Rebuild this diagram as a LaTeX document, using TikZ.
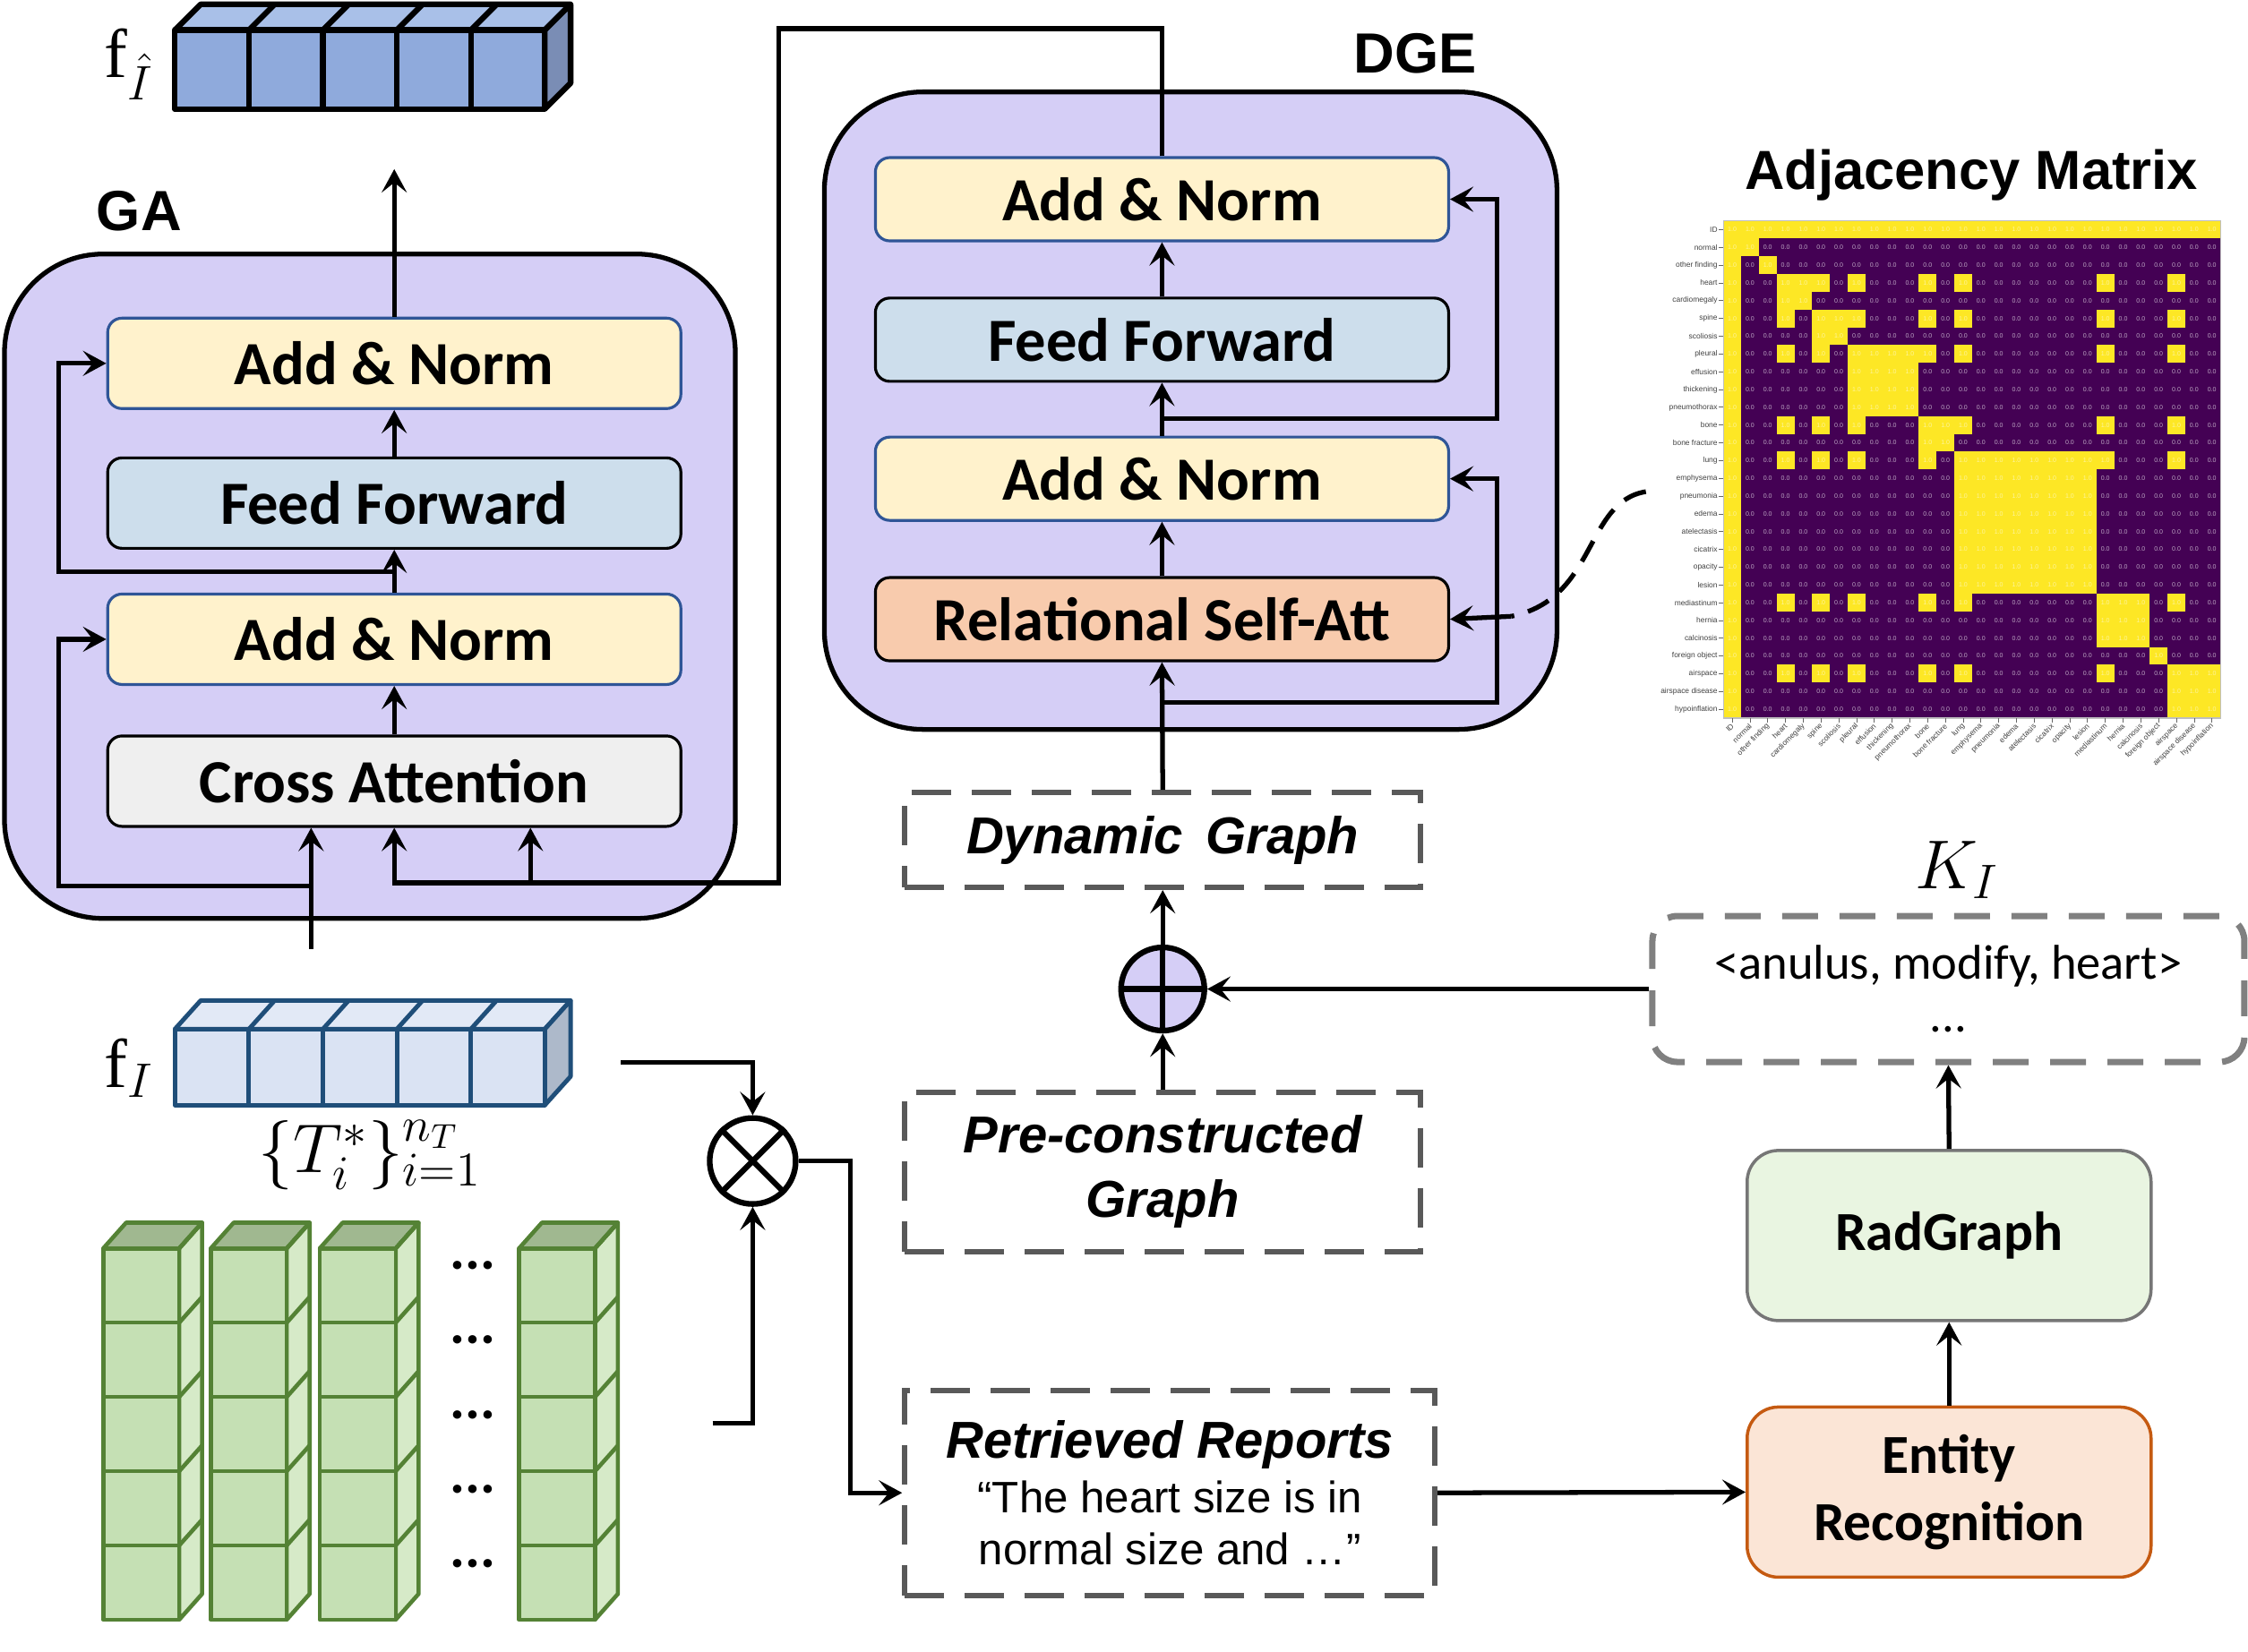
\RequirePackage{fix-cm}
\documentclass[tikz,border=0pt]{standalone}
\usepackage[no-math]{fontspec}
\setmainfont{Liberation Sans}
\newfontfamily\calibrifont{Carlito}
\newfontfamily\seriffont{Liberation Serif}
\usetikzlibrary{arrows.meta,positioning,calc}
\definecolor{blockfill}{RGB}{213,206,246}
\definecolor{normfill}{RGB}{255,242,204}
\definecolor{normborder}{RGB}{47,85,151}
\definecolor{ffwdfill}{RGB}{205,222,236}
\definecolor{crossfill}{RGB}{239,239,239}
\definecolor{relfill}{RGB}{248,203,173}
\definecolor{entityfill}{RGB}{251,229,214}
\definecolor{entityborder}{RGB}{197,90,17}
\definecolor{radfill}{RGB}{233,245,225}
\definecolor{radborder}{RGB}{118,118,118}
\definecolor{dashgray}{RGB}{89,89,89}
\definecolor{kgray}{RGB}{128,128,128}
\definecolor{featfront}{RGB}{143,170,220}
\definecolor{feattop}{RGB}{169,192,232}
\definecolor{featside}{RGB}{122,141,181}
\definecolor{imgfront}{RGB}{218,227,243}
\definecolor{imgtop}{RGB}{226,233,246}
\definecolor{imgside}{RGB}{173,185,202}
\definecolor{imgborder}{RGB}{31,78,121}
\definecolor{txtfront}{RGB}{197,224,180}
\definecolor{txttop}{RGB}{160,184,144}
\definecolor{txtside}{RGB}{214,234,200}
\definecolor{txtborder}{RGB}{84,130,53}
\definecolor{adjyellow}{RGB}{253,231,37}
\definecolor{adjpurple}{RGB}{68,1,84}
\def\adjgrp{{0,1,2,3,3,4,4,5,5,5,5,6,6,7,7,7,7,7,7,7,7,8,8,8,9,10,10,10}}
\def\adjhub{{0,0,0,1,0,1,0,1,0,0,0,1,0,1,0,0,0,0,0,0,0,1,0,0,0,1,0,0}}
\tikzset{
boxtext/.style={
  font=\calibrifont\bfseries\fontsize{19.5}{23}\selectfont,
  align=center
},
layerbox/.style={
  draw,
  rounded corners=1.6mm,
  line width=0.9pt,
  minimum width=64mm,
  minimum height=10.1mm,
  boxtext
},
normbox/.style={layerbox, draw=normborder, fill=normfill},
ffwdbox/.style={layerbox, fill=ffwdfill},
crossbox/.style={layerbox, fill=crossfill},
relbox/.style={layerbox, fill=relfill},
outerblock/.style={
  draw,
  line width=1.5pt,
  fill=blockfill,
  rounded corners=11mm
},
titletext/.style={
  font=\bfseries\fontsize{18}{21}\selectfont
},
graphbox/.style={
  draw=dashgray,
  line width=1.7pt,
  dash pattern=on 4.4mm off 2.3mm,
  align=center,
  font=\bfseries\itshape\fontsize{16.5}{20.4}\selectfont
},
tripletbox/.style={
  draw=kgray,
  line width=2pt,
  dash pattern=on 4mm off 2.4mm,
  rounded corners=2.8mm,
  align=center,
  font=\calibrifont\fontsize{15.5}{18.7}\selectfont
},
procbox/.style={
  draw,
  line width=1pt,
  rounded corners=3.5mm,
  minimum width=45.1mm,
  minimum height=19mm,
  align=center,
  font=\calibrifont\bfseries\fontsize{17.5}{21.3}\selectfont
},
opnode/.style={
  draw,
  circle,
  line width=1.8pt,
  minimum size=9.3mm,
  inner sep=0pt
},
wire/.style={line width=1.5pt},
flow/.style={
  -{Stealth[length=2.6mm,width=2.8mm,inset=1.1mm]},
  wire
},
mathlabel/.style={font=\fontsize{22}{26}\selectfont},
cubeedge/.style={line width=1.8pt, line join=round},
imgedge/.style={draw=imgborder, line width=1.4pt, line join=round},
txtedge/.style={draw=txtborder, line width=1.3pt, line join=round},
cellval/.style={font=\fontsize{2}{2.4}\selectfont, inner sep=0pt},
ticklabel/.style={font=\fontsize{2.4}{2.8}\selectfont, inner sep=0.3pt, text=black!75}
}
\begin{document}
\begin{tikzpicture}[x=0.16008mm, y=-0.16008mm]
\useasboundingbox (0,0) rectangle (1568,1152);

% outer blocks
\node[outerblock, minimum width=81.6mm, minimum height=74.2mm] (ga) at (258,409) {};
\node[outerblock, minimum width=81.8mm, minimum height=71.2mm] (dge) at (830.5,286.5) {};
\node[titletext] (ga-title) at (97,147) {GA};
\node[titletext] (dge-title) at (987,37) {DGE};

% GA layers
\node[normbox] (ga-an2) at (275,253.5) {Add \& Norm};
\node[ffwdbox] (ga-ff) at (275,351) {Feed Forward};
\node[normbox] (ga-an1) at (275,446) {Add \& Norm};
\node[crossbox] (ga-ca) at (275,545) {Cross Attention};

% DGE layers
\node[normbox, minimum height=9.3mm] (dge-an2) at (810.5,139) {Add \& Norm};
\node[ffwdbox, minimum height=9.3mm] (dge-ff) at (810.5,237) {Feed Forward};
\node[normbox, minimum height=9.3mm] (dge-an1) at (810.5,334) {Add \& Norm};
\node[relbox, minimum height=9.3mm] (dge-rsa) at (810.5,432) {Relational Self-Att};

% graphs and reports
\node[graphbox, minimum width=57.6mm, minimum height=10.6mm] (dyn) at (811,586) {Dynamic\, Graph};
\node[graphbox, minimum width=57.6mm, minimum height=17.8mm] (pre) at (811,817.5) {Pre-constructed\\Graph};
\node[graphbox, minimum width=59.2mm, minimum height=22.9mm] (ret) at (816,1041.5)
  {Retrieved Reports\\[-3pt]
   {\normalfont\fontsize{14}{16.2}\selectfont “The heart size is in}\\[-4pt]
   {\normalfont\fontsize{14}{16.2}\selectfont normal size and …”}};
\node[opnode, fill=blockfill] (plus) at (811,690) {};
\draw[line width=1.8pt] (plus.north) -- (plus.south) (plus.west) -- (plus.east);
\node[opnode, fill=white, minimum size=9.6mm] (mul) at (525,810) {};
\draw[line width=1.8pt] (mul.north west) -- (mul.south east) (mul.north east) -- (mul.south west);

% knowledge branch
\node[tripletbox, minimum width=66.1mm, minimum height=16.3mm] (kbox) at (1359,690)
  {<anulus, modify, heart>\\[-2pt]...};
\node[mathlabel] (k-label) at (1365,607) {$K_I$};
\node[procbox, draw=radborder, fill=radfill] (rad) at (1359.5,862) {RadGraph};
\node[procbox, draw=entityborder, fill=entityfill] (er) at (1359.5,1041) {Entity\\Recognition};

% GA connections
\draw[flow] (ga-ca.north) -- (ga-an1.south);
\draw[flow] (ga-an1.north) -- (ga-ff.south);
\draw[flow] (ga-ff.north) -- (ga-an2.south);
\draw[flow] (ga-an2.north) -- (275,118);
\draw[flow] (275,399) -- (41,399) |- (ga-an2.west);
\coordinate (fin) at (217,662);
\draw[flow] (fin) -- (fin |- ga-ca.south);
\draw[flow] (217,618) -- (41,618) |- (ga-an1.west);
\draw[flow] (dge-an2.north) |- (543,20) -- (543,616) -| (ga-ca.south);
\coordinate (ca-in) at (370,616);
\draw[flow] (ca-in) -- (ca-in |- ga-ca.south);

% DGE connections
\draw[flow] (dge-rsa.north) -- (dge-an1.south);
\draw[flow] (dge-an1.north) -- (dge-ff.south);
\draw[flow] (dge-ff.north) -- (dge-an2.south);
\draw[flow] (810.5,292) -- (1044,292) |- (dge-an2.east);
\draw[flow] (810.5,490) -- (1044,490) |- (dge-an1.east);
\draw[flow] (dyn.north) -- (dge-rsa.south);
\coordinate (adj-out) at (1148,343);
\coordinate (att-in) at (1054,430);
\draw[wire, dash pattern=on 2.6mm off 1.6mm] (adj-out) .. controls (1105,350) and (1114,418) .. (att-in);
\draw[flow] (att-in) -- (dge-rsa.east);

% graph fusion
\draw[flow] (pre.north) -- (plus.south);
\draw[flow] (plus.north) -- (dyn.south);
\draw[flow] (kbox.west) -- (plus.east);
\coordinate (fi-out) at (433,741);
\coordinate (tx-out) at (497,993);
\draw[flow] (fi-out) -| (mul.north);
\draw[flow] (tx-out) -| (mul.south);
\draw[flow] (mul.east) -- (593,810) |- (ret.west);
\draw[flow] (ret.east) -- (er.west);
\draw[flow] (er.north) -- (rad.south);
\draw[flow] (rad.north) -- (kbox.south);

% output feature
\filldraw[cubeedge, fill=feattop] (122,21) -- (140,3) -- (398,3) -- (380,21) -- cycle;
\filldraw[cubeedge, fill=featside] (380,21) -- (398,3) -- (398,58) -- (380,76) -- cycle;
\foreach \i in {0,...,4}
  \filldraw[cubeedge, fill=featfront] (122+51.6*\i,21) rectangle ++(51.6,55);
\foreach \i in {1,...,4}
  \draw[cubeedge] (122+51.6*\i,21) -- ++(18,-18);
\node[mathlabel] (fhat-label) at (90,45) {{\seriffont f}$_{\hat{I}}$};

% image feature
\filldraw[imgedge, fill=imgtop] (122,718) -- (140,698) -- (398,698) -- (380,718) -- cycle;
\filldraw[imgedge, fill=imgside] (380,718) -- (398,698) -- (398,751) -- (380,771) -- cycle;
\foreach \i in {0,...,4}
  \filldraw[imgedge, fill=imgfront] (122+51.6*\i,718) rectangle ++(51.6,53);
\foreach \i in {1,...,4}
  \draw[imgedge] (122+51.6*\i,718) -- ++(18,-20);
\node[mathlabel] (f-label) at (90,745) {{\seriffont f}$_{I}$};
\node[mathlabel] (t-label) at (258,806) {$\{T_i^*\}_{i=1}^{n_T}$};

% text features
\foreach \x in {72,147,223,362}{
  \filldraw[txtedge, fill=txttop] (\x,871) -- ++(16,-18) -- ++(53,0) -- ++(-16,18) -- cycle;
  \filldraw[txtedge, fill=txtside] (\x+53,871) -- ++(16,-18) -- ++(0,259) -- ++(-16,18) -- cycle;
  \foreach \k in {0,...,4}{
    \filldraw[txtedge, fill=txtfront] (\x,871+51.8*\k) rectangle ++(53,51.8);
    \draw[txtedge] (\x+53,871+51.8*\k) -- ++(16,-18);
  }
}
\foreach \y [count=\k] in {883,935,987,1039,1091}
  \node[font=\calibrifont\bfseries\fontsize{18}{20}\selectfont, inner sep=0pt] (dots-\k) at (330,\y) {...};

% adjacency matrix
\node[titletext, font=\bfseries\fontsize{17.5}{21}\selectfont] (adj-title) at (1375,122) {Adjacency Matrix};
\foreach \r in {0,...,27}{
  \foreach \c in {0,...,27}{
    \pgfmathtruncatemacro\isone{(\r==0)||(\c==0)||(\adjgrp[\r]==\adjgrp[\c])||(\adjhub[\r]+\adjhub[\c]==2)}
    \ifnum\isone=1
      \fill[adjyellow] (1202+12.393*\c,154+12.393*\r) rectangle ++(12.45,12.45);
      \node[cellval, text=white!55!adjyellow] (cell-\r-\c) at (1208.2+12.393*\c,160.2+12.393*\r) {1.0};
    \else
      \fill[adjpurple] (1202+12.393*\c,154+12.393*\r) rectangle ++(12.45,12.45);
      \node[cellval, text=adjpurple!35!white] (cell-\r-\c) at (1208.2+12.393*\c,160.2+12.393*\r) {0.0};
    \fi
  }
}
\draw[black!25, line width=0.3pt] (1202,154) rectangle (1549,501);
\foreach \nm [count=\k from 0] in {ID, normal, other finding, heart, cardiomegaly, spine, scoliosis, pleural, effusion, thickening, pneumothorax, bone, bone fracture, lung, emphysema, pneumonia, edema, atelectasis, cicatrix, opacity, lesion, mediastinum, hernia, calcinosis, foreign object, airspace, airspace disease, hypoinflation}{
  \draw[black!60, line width=0.2pt] (1199,160.2+12.393*\k) -- (1202,160.2+12.393*\k);
  \node[ticklabel, anchor=east] (row-\k) at (1199,160.2+12.393*\k) {\nm};
  \draw[black!60, line width=0.2pt] (1208.2+12.393*\k,501) -- (1208.2+12.393*\k,504);
  \node[ticklabel, anchor=east, rotate=45] (col-\k) at (1209.2+12.393*\k,505) {\nm};
}
\end{tikzpicture}
\end{document}
